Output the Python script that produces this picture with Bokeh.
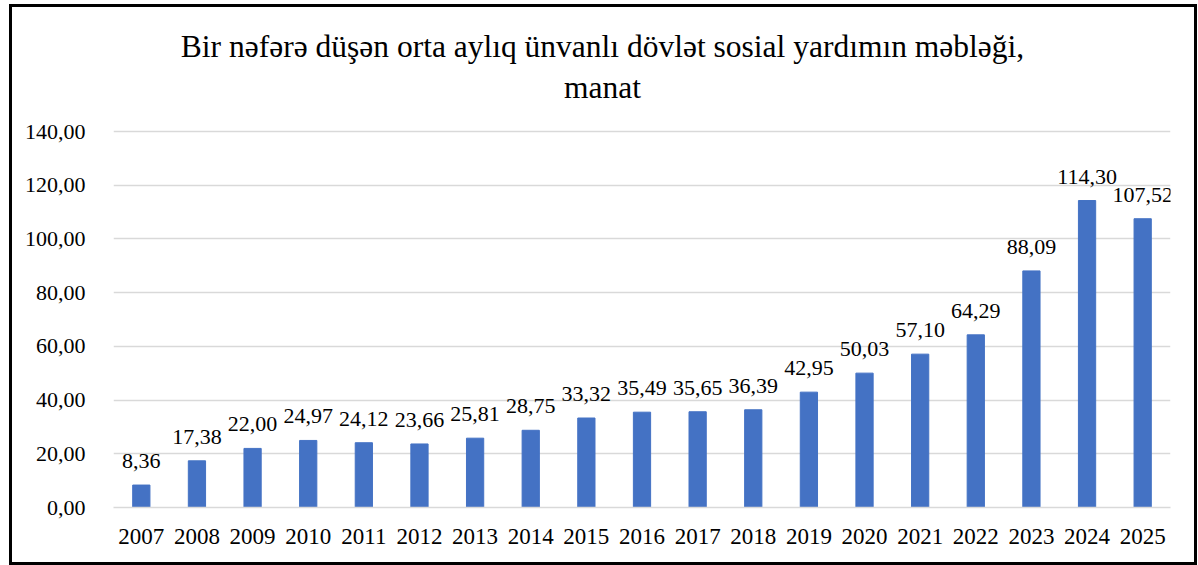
from bokeh.plotting import figure
from bokeh.layouts import column
from bokeh.models import (ColumnDataSource, CustomJSTickFormatter, FixedTicker,
                          Range1d, Label)
from bokeh.embed import file_html
from bokeh.resources import INLINE

years = ["2007", "2008", "2009", "2010", "2011", "2012", "2013", "2014", "2015", "2016",
         "2017", "2018", "2019", "2020", "2021", "2022", "2023", "2024", "2025"]
values = [8.36, 17.38, 22.00, 24.97, 24.12, 23.66, 25.81, 28.75, 33.32, 35.49,
          35.65, 36.39, 42.95, 50.03, 57.10, 64.29, 88.09, 114.30, 107.52]
y_ticks = [0, 20, 40, 60, 80, 100, 120, 140]
title_line1 = "Bir nəfərə düşən orta aylıq ünvanlı dövlət sosial yardımın məbləği,"
title_line2 = "manat"

labels = [f"{v:.2f}".replace(".", ",") for v in values]
src = ColumnDataSource(dict(x=years, top=values, label=labels))

FONT = "Liberation Serif"
W, H = 1182, 555
FRAME_BOTTOM = 55
PLOT_H = H - FRAME_BOTTOM          # frame spans whole height above x axis
GRID_H = 376                       # pixel height of 0..140 band
y_end = 140 * PLOT_H / GRID_H      # extend range so title sits inside frame

p = figure(x_range=years, width=W, height=H, output_backend="svg",
           toolbar_location=None, tools="",
           min_border_left=101, min_border_right=24, min_border_top=0,
           min_border_bottom=FRAME_BOTTOM)
p.y_range = Range1d(0, y_end)

p.vbar(x="x", top="top", width=0.31, source=src, color="#4472C4")
p.text(x="x", y="top", text="label", source=src, text_align="center",
       text_baseline="alphabetic", y_offset=-24, text_font=FONT,
       text_font_size="22px", text_color="#000000")

for txt, yy in [(title_line1, 39), (title_line2, 80)]:
    p.add_layout(Label(x=590, y=yy, x_units="canvas", y_units="canvas", text=txt,
                       text_align="center", text_baseline="alphabetic",
                       text_font=FONT, text_font_size="31.5px", text_color="#000000"))

p.yaxis.ticker = FixedTicker(ticks=y_ticks)
p.yaxis.formatter = CustomJSTickFormatter(code="return tick.toFixed(2).replace('.', ',');")
p.yaxis.axis_line_color = None
p.yaxis.major_tick_line_color = None
p.yaxis.minor_tick_line_color = None
p.yaxis.major_label_standoff = 22
p.yaxis.major_label_text_font = FONT
p.yaxis.major_label_text_font_size = "22px"
p.yaxis.major_label_text_color = "#000000"

p.xaxis.axis_line_color = "#d9d9d9"
p.xaxis.axis_line_width = 1.5
p.xaxis.major_tick_line_color = None
p.xaxis.major_label_standoff = 15
p.xaxis.major_label_text_font = FONT
p.xaxis.major_label_text_font_size = "23px"
p.xaxis.major_label_text_color = "#000000"

p.xgrid.grid_line_color = None
p.ygrid.grid_line_color = "#d9d9d9"
p.ygrid.grid_line_width = 1.5
p.outline_line_color = None
p.x_range.range_padding = 0
p.x_range.factor_padding = 0

layout = column(p, styles={"border": "3px solid black", "margin-left": "9px",
                           "margin-top": "4px"})

open("out.html", "w").write(file_html(layout, INLINE))
